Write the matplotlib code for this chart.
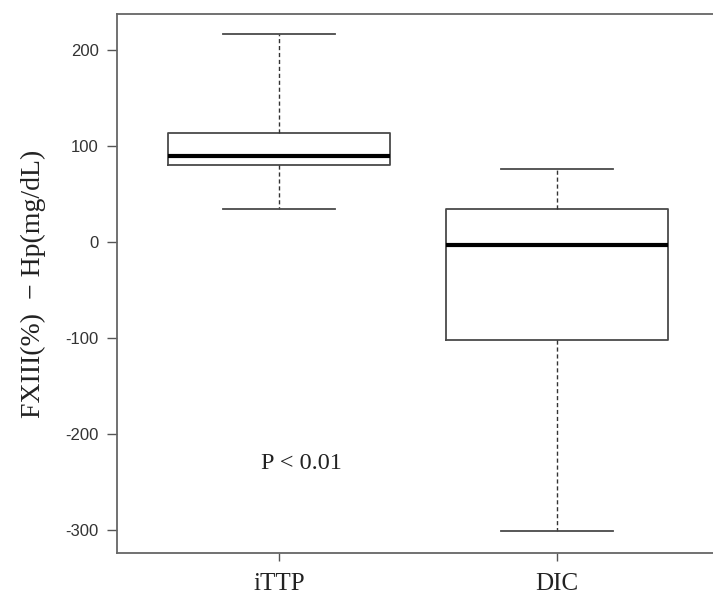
import matplotlib
matplotlib.use("Agg")
import matplotlib.pyplot as plt

# ── Data ──────────────────────────────────────────────────
groups = ["iTTP", "DIC"]
whisker_low = [35, -301]
q1 = [80, -102]
median = [90, -3]
q3 = [114, 35]
whisker_high = [217, 76]

yticks = [200, 100, 0, -100, -200, -300]
ytick_labels = ["200", "100", "0", "-100", "-200", "-300"]
ylabel = "FXIII(%)  \u2212 Hp(mg/dL)"
p_text = "P < 0.01"

serif = ["Liberation Serif", "DejaVu Serif"]
sans = ["Liberation Sans", "DejaVu Sans"]

fig = plt.figure(figsize=(7.13, 6.0), dpi=100)
ax = fig.add_axes([0.164, 0.078, 0.836, 0.899])

stats = []
for i, g in enumerate(groups):
    stats.append({
        "label": g,
        "whislo": whisker_low[i],
        "q1": q1[i],
        "med": median[i],
        "q3": q3[i],
        "whishi": whisker_high[i],
        "fliers": [],
    })

edge = "#4a4a4a"
ax.bxp(
    stats,
    positions=[1, 2],
    widths=0.8,
    showfliers=False,
    boxprops=dict(color=edge, linewidth=1.3),
    medianprops=dict(color="black", linewidth=3.0, solid_capstyle="butt"),
    whiskerprops=dict(color="#333333", linewidth=1.0, linestyle=(0, (3, 2))),
    capprops=dict(color=edge, linewidth=1.3),
    capwidths=0.4,
)

ax.set_xlim(0.417, 2.561)
ax.set_ylim(-324, 238)

ax.set_yticks(yticks)
ax.set_yticklabels(ytick_labels, family=sans, fontsize=12, color="#333333")
ax.set_xticks([1, 2])
ax.set_xticklabels(groups, family=serif, fontsize=18, color="#222222")

ax.tick_params(axis="y", direction="out", length=7, width=1.0,
               color="#555555", pad=6)
ax.tick_params(axis="x", direction="out", length=6, width=1.0,
               color="#555555", pad=8)

for side in ["left", "top", "bottom"]:
    ax.spines[side].set_color("#666666")
    ax.spines[side].set_linewidth(1.3)
ax.spines["right"].set_visible(False)

ax.set_ylabel(ylabel, family=serif, fontsize=20, color="#222222", labelpad=14)

ax.text(1.08, -231, p_text, family=serif, fontsize=17.5, color="#222222",
        ha="center", va="center")

fig.savefig("out.png", dpi=100)
